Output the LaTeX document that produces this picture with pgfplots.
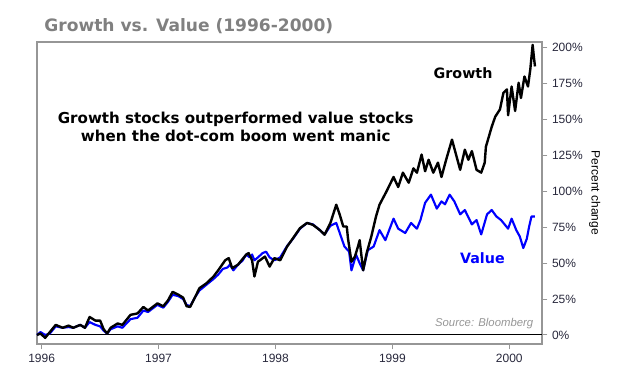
\documentclass[border=0pt]{standalone}
\usepackage{pgfplots}
\pgfplotsset{compat=1.18}
\usepackage{fontspec}
\setmainfont{Liberation Sans}
\newfontfamily\verd{DejaVu Sans}
\definecolor{ticktxt}{RGB}{40,40,60}
\definecolor{titlegray}{RGB}{128,128,128}
\definecolor{boxgray}{RGB}{150,150,150}
\begin{document}
\begin{tikzpicture}
\useasboundingbox (-27.75pt,-18.75pt) rectangle (452.25pt,258pt);
\begin{axis}[at={(0,0)}, anchor=south west, scale only axis,
  width=378.75pt, height=226.5pt,
  xmin=1995.96, xmax=2000.28, ymin=-6.3, ymax=204,
  axis line style={boxgray, line width=0.9pt},
  xtick={1996,1997,1998,1999,2000},
  x tick label style={/pgf/number format/1000 sep={}},
  ytick={0,25,...,200},
  yticklabel={\pgfmathprintnumber{\tick}\%},
  yticklabel pos=right, ylabel near ticks,
  ylabel={Percent change}, ylabel style={rotate=180, font=\fontsize{9}{10}\selectfont, text=black, yshift=-2pt},
  tick align=outside, major tick length=4pt,
  tick style={boxgray, line width=0.7pt},
  xtick pos=bottom, ytick pos=right,
  /pgf/number format/assume math mode=true,
  ticklabel style={font=\fontsize{9}{10}\selectfont, text=ticktxt},
  clip=false,
]
\draw[black, line width=0.8pt] (axis cs:1995.96,0) -- (axis cs:2000.28,0);
\addplot[blue, line width=1.6pt, line join=round] coordinates {
(1995.96,0)(1995.99,2)(1996.03,0)(1996.07,1)(1996.12,6)(1996.18,5)(1996.23,5.5)(1996.27,5)
(1996.33,7)(1996.37,5)(1996.41,9)(1996.46,7)(1996.50,6)(1996.53,3)(1996.56,1)(1996.59,4)
(1996.65,6)(1996.69,5)(1996.76,11)(1996.82,12)(1996.87,17)(1996.91,16)(1996.99,21)(1997.04,19)
(1997.08,23)(1997.12,28)(1997.17,27)(1997.21,25)(1997.24,21)(1997.27,20)(1997.31,26)(1997.35,31)
(1997.41,35)(1997.47,39)(1997.51,42)(1997.55,46)(1997.59,47)(1997.61,49)(1997.64,45)(1997.67,48)
(1997.72,52)(1997.75,56)(1997.78,54)(1997.80,56)(1997.82,52)(1997.85,54)(1997.89,57)(1997.92,58)(1997.95,54)
(1997.99,52)(1998.04,54)(1998.10,62)(1998.15,67)(1998.21,74)(1998.27,78)(1998.32,77)
(1998.38,73)(1998.42,70)(1998.47,76)(1998.52,78)(1998.56,68.6)(1998.59,61.6)
(1998.63,58)(1998.65,45)(1998.69,55.8)(1998.72,50)(1998.75,45)(1998.79,59)(1998.84,61.6)
(1998.89,73)(1998.94,66)(1999.01,81)(1999.05,74)(1999.11,71)(1999.16,78)(1999.21,74)(1999.24,80)
(1999.28,92)(1999.33,97.7)(1999.38,88)(1999.42,93)(1999.45,91)(1999.49,97.7)(1999.53,93)(1999.58,84)
(1999.62,87)(1999.68,77)(1999.72,80)(1999.76,70)(1999.81,84)(1999.85,87)(1999.89,82.5)(1999.93,80)
(1999.99,74)(2000.02,81)(2000.06,73)(2000.09,68.6)(2000.12,60.5)(2000.15,67)(2000.17,75.5)(2000.19,82.5)(2000.22,82.5)
};
\addplot[black, line width=1.8pt, line join=round] coordinates {
(1995.96,0)(1995.99,1)(1996.03,-2)(1996.07,2)(1996.12,7)(1996.18,5)(1996.23,6.5)(1996.27,5)
(1996.33,7)(1996.37,5)(1996.41,12.5)(1996.46,10)(1996.50,10)(1996.53,4)(1996.56,1)(1996.59,5)
(1996.65,8)(1996.69,7)(1996.76,14)(1996.82,15)(1996.87,19.5)(1996.91,17)(1996.99,22)(1997.04,20)
(1997.08,24)(1997.12,30)(1997.17,28)(1997.21,26)(1997.24,20)(1997.27,19.5)(1997.31,26)(1997.35,32.6)
(1997.41,36)(1997.47,40.7)(1997.51,45)(1997.57,52)(1997.60,53.5)(1997.63,46.5)(1997.68,49)
(1997.75,56)(1997.77,57)(1997.80,52)(1997.82,40.7)(1997.85,51)(1997.91,54.6)(1997.95,47.6)
(1997.99,53.5)(1998.04,52)(1998.10,61.6)(1998.15,67.4)(1998.21,74.4)(1998.27,78)(1998.32,76.7)
(1998.38,73)(1998.42,69.8)(1998.47,78)(1998.52,90.7)(1998.55,83.7)(1998.58,75.5)(1998.61,75.5)
(1998.62,67.4)(1998.65,51)(1998.68,54.6)(1998.71,62.8)(1998.72,66)(1998.75,45)(1998.78,57)
(1998.82,68.6)(1998.86,82.5)(1998.89,90.7)(1998.95,100)(1999.01,110)(1999.05,103)(1999.09,113)
(1999.14,106)(1999.18,116)(1999.21,113)(1999.25,125.6)(1999.28,114)(1999.31,122)(1999.35,113)
(1999.39,120)(1999.42,110)(1999.46,122)(1999.51,136)(1999.55,124)(1999.58,115)(1999.62,129)
(1999.65,122)(1999.68,128)(1999.72,115)(1999.76,113)(1999.79,120)(1999.80,131)(1999.85,145)
(1999.88,152)(1999.92,157)(1999.95,168.6)(1999.98,171)(1999.99,153)(2000.02,173)(2000.05,156)
(2000.08,175.6)(2000.10,165)(2000.13,180)(2000.16,173)(2000.18,185)(2000.20,202)(2000.21,194)(2000.22,187)
};
\node[font=\verd\bfseries\fontsize{11.3}{14}\selectfont, align=center] at (axis cs:1997.66,145) {Growth stocks outperformed value stocks\\when the dot-com boom went manic};
\node[font=\verd\bfseries\fontsize{10.7}{13}\selectfont] at (axis cs:1999.605,182) {Growth};
\node[font=\verd\bfseries\fontsize{10.7}{13}\selectfont, text=blue] at (axis cs:1999.77,53.5) {Value};
\node[font=\itshape\fontsize{8.5}{10}\selectfont, text=boxgray, anchor=east] at (axis cs:2000.245,8.2) {Source: Bloomberg};
\node[font=\verd\bfseries\fontsize{12.8}{15}\selectfont, text=titlegray, anchor=west] at ([xshift=2pt,yshift=12pt]rel axis cs:0,1) {Growth vs. Value (1996-2000)};
\end{axis}
\end{tikzpicture}
\end{document}
